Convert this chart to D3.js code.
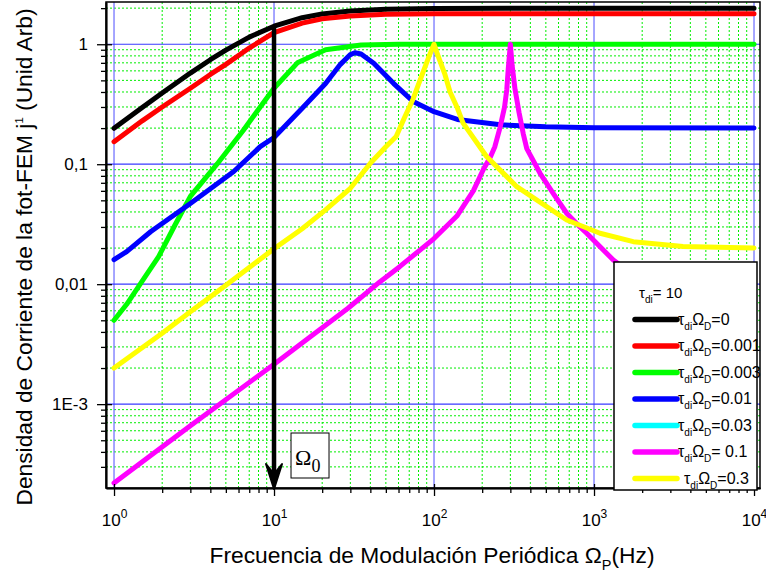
<!DOCTYPE html>
<html>
<head>
<meta charset="utf-8">
<script src="https://cdn.jsdelivr.net/npm/d3@7"></script>
<style>
  body { margin: 0; background: #fff; }
  svg { font-family: "Liberation Sans", Arial, sans-serif; }
</style>
</head>
<body>
<div class="chart"></div>
<script>
// curves: [frequency (Hz), current density]
const black = [[1, 0.199], [1.5, 0.297], [2, 0.392], [3, 0.575], [4, 0.743], [5, 0.894], [7, 1.147],
    [10, 1.414], [15, 1.664], [20, 1.789], [30, 1.897], [50, 1.961], [100, 1.99], [300, 1.999], [1000, 2.0], [10000, 2.0]];
const red = [[1, 0.154], [1.5, 0.23], [2, 0.30], [3, 0.43], [4, 0.56], [5, 0.68], [7, 0.93],
    [10, 1.25], [15, 1.5], [20, 1.63], [30, 1.72], [50, 1.78], [100, 1.8], [1000, 1.8], [10000, 1.8]];
const green = [[1, 0.005], [1.2, 0.0068], [1.45, 0.0099], [1.9, 0.017], [2.4, 0.031], [3, 0.054], [4.4, 0.10],
    [6.4, 0.19], [8.2, 0.30], [10, 0.43], [14, 0.70], [21, 0.90], [35, 0.985], [60, 1.0], [100, 1.0], [1000, 1.0], [10000, 1.0]];
const blue = [[1, 0.016], [1.2, 0.0187], [1.7, 0.0275], [3, 0.047], [5.6, 0.087], [8.2, 0.14], [10, 0.167],
    [15, 0.293], [21, 0.47], [26, 0.68], [30, 0.82], [32, 0.85], [35, 0.83], [42, 0.695], [56, 0.47], [74, 0.333],
    [100, 0.274], [140, 0.236], [260, 0.213], [500, 0.205], [1000, 0.201], [10000, 0.2]];
const cyan = [];
const magenta = [[1, 2.2e-4], [3, 6.6e-4], [10, 0.00215], [29, 0.0063], [46, 0.0105], [61, 0.014], [100, 0.024],
    [139, 0.037], [176, 0.06], [203, 0.09], [225, 0.115], [240, 0.14], [258, 0.2], [276, 0.3], [285, 0.42],
    [291, 0.62], [300, 1.0], [308, 0.66], [321, 0.42], [340, 0.27], [361, 0.18], [380, 0.135], [460, 0.084],
    [557, 0.057], [675, 0.039], [817, 0.030], [900, 0.0266], [1320, 0.0159], [10000, 0.0021]];
const yellow = [[1, 0.002], [2, 0.0039], [3, 0.0059], [5, 0.0098], [7, 0.0138], [10, 0.0197], [15, 0.029],
    [21, 0.0416], [30, 0.063], [40, 0.102], [50, 0.14], [58, 0.17], [65, 0.24], [74, 0.35], [86, 0.6], [94, 0.82],
    [100, 1.0], [106, 0.8], [117, 0.56], [126, 0.40], [139, 0.30], [152, 0.22], [213, 0.116], [329, 0.065],
    [675, 0.0343], [1090, 0.0266], [1760, 0.0226], [3600, 0.0206], [10000, 0.02]];

const seriesData = [black, red, green, blue, cyan, magenta, yellow];
const seriesColors = ["#000000", "#ff0000", "#00ff00", "#0000ff", "#00ffff", "#ff00ff", "#ffff00"];
const legendValues = ["=0", "=0.001", "=0.003", "=0.01", "=0.03", "= 0.1", "=0.3"];

const xTicks = [1, 10, 100, 1000, 10000];
const xExponents = ["0", "1", "2", "3", "4"];
const yTicks = [0.001, 0.01, 0.1, 1];
const yTickLabels = ["1E-3", "0,01", "0,1", "1"];
const omega0 = 10;
const arrowTopValue = 1.41;

const w = 766, h = 573;
const plot = { left: 106, right: 760, top: 2, bottom: 488 };

const x = d3.scaleLog().domain([0.891, 10900]).range([plot.left, plot.right]);
const y = d3.scaleLog().domain([2.0e-4, 2.25]).range([plot.bottom, plot.top]);

const svg = d3.select(".chart").append("svg").attr("width", w).attr("height", h);

// minor values
let xMinor = [], yMinor = [];
for (let e = 0; e < 4; e++) for (let k = 2; k <= 9; k++) xMinor.push(k * Math.pow(10, e));
for (let e = -4; e <= 0; e++) for (let k = 2; k <= 9; k++) {
    const v = k * Math.pow(10, e);
    if (v > 2.0e-4 && v < 2.25) yMinor.push(v);
}

// grid
const grid = svg.append("g");
grid.selectAll(".vmin").data(xMinor).enter().append("line")
    .attr("x1", d => x(d)).attr("x2", d => x(d)).attr("y1", plot.top).attr("y2", plot.bottom)
    .attr("stroke", "#00ee00").attr("stroke-width", 1).attr("stroke-dasharray", "2,2");
grid.selectAll(".hmin").data(yMinor).enter().append("line")
    .attr("x1", plot.left).attr("x2", plot.right).attr("y1", d => y(d)).attr("y2", d => y(d))
    .attr("stroke", "#00ee00").attr("stroke-width", 1).attr("stroke-dasharray", "2,2");
grid.selectAll(".vmaj").data(xTicks).enter().append("line")
    .attr("x1", d => x(d)).attr("x2", d => x(d)).attr("y1", plot.top).attr("y2", plot.bottom)
    .attr("stroke", "#6a6aff").attr("stroke-width", 1.2);
grid.selectAll(".hmaj").data(yTicks).enter().append("line")
    .attr("x1", plot.left).attr("x2", plot.right).attr("y1", d => y(d)).attr("y2", d => y(d))
    .attr("stroke", "#3a3aff").attr("stroke-width", 1.2);

// curves
const line = d3.line().x(d => x(d[0])).y(d => y(d[1]));
svg.append("g").selectAll("path").data(seriesData).enter().append("path")
    .attr("d", d => d.length ? line(d) : null)
    .attr("fill", "none")
    .attr("stroke", (d, i) => seriesColors[i])
    .attr("stroke-width", 5)
    .attr("stroke-linejoin", "round")
    .attr("stroke-linecap", "round");

// frame
svg.append("rect").attr("x", plot.left).attr("y", plot.top)
    .attr("width", plot.right - plot.left).attr("height", plot.bottom - plot.top)
    .attr("fill", "none").attr("stroke", "#000").attr("stroke-width", 1.5);

// axes
const xAxisG = svg.append("g").attr("transform", "translate(0," + plot.bottom + ")");
xAxisG.append("g").call(d3.axisBottom(x).tickValues(xMinor).tickSize(5).tickFormat("").tickSizeOuter(0));
xAxisG.append("g").call(d3.axisTop(x).tickValues(xTicks).tickSize(4).tickFormat("").tickSizeOuter(0));
xAxisG.append("g").attr("class", "xmaj")
    .call(d3.axisBottom(x).tickValues(xTicks).tickSize(8).tickPadding(18).tickSizeOuter(0));
xAxisG.selectAll("path.domain").attr("stroke-width", 1.5);
xAxisG.selectAll(".tick line").attr("stroke-width", 1.3);
xAxisG.selectAll(".xmaj .tick text").each(function (d, i) {
    const t = d3.select(this);
    t.text("10").attr("font-size", 17).attr("fill", "#000").attr("text-anchor", "middle");
    t.append("tspan").attr("dy", -8).attr("font-size", 12).text(xExponents[i]);
});

const yAxisG = svg.append("g").attr("transform", "translate(" + plot.left + ",0)");
yAxisG.append("g").call(d3.axisLeft(y).tickValues(yMinor).tickSize(5).tickFormat("").tickSizeOuter(0));
yAxisG.append("g").call(d3.axisRight(y).tickValues(yTicks).tickSize(6).tickFormat("").tickSizeOuter(0));
yAxisG.append("g")
    .call(d3.axisLeft(y).tickValues(yTicks).tickSize(9).tickPadding(9).tickSizeOuter(0)
        .tickFormat((d, i) => yTickLabels[i]))
    .selectAll("text").attr("font-size", 17).attr("fill", "#000");
yAxisG.selectAll("path.domain").attr("stroke-width", 1.5);
yAxisG.selectAll(".tick line").attr("stroke-width", 1.3);

// arrow at omega_0
const ax = x(omega0);
svg.append("line").attr("x1", ax).attr("x2", ax)
    .attr("y1", y(arrowTopValue)).attr("y2", plot.bottom - 12)
    .attr("stroke", "#000").attr("stroke-width", 4.5);
svg.append("path")
    .attr("d", "M" + ax + "," + (plot.bottom + 1) + " L" + (ax - 8) + "," + (plot.bottom - 24) +
        " L" + ax + "," + (plot.bottom - 14) + " L" + (ax + 8) + "," + (plot.bottom - 24) + " Z")
    .attr("fill", "#000").attr("stroke", "#000").attr("stroke-width", 2).attr("stroke-linejoin", "round");

const ob = svg.append("g").attr("transform", "translate(" + (ax + 17) + "," + (plot.bottom - 55) + ")");
ob.append("rect").attr("width", 38).attr("height", 45).attr("fill", "#fff").attr("stroke", "#000").attr("stroke-width", 1);
const ot = ob.append("text").attr("x", 4).attr("y", 32)
    .attr("font-family", "'Liberation Serif', 'Times New Roman', serif").attr("font-size", 22);
ot.append("tspan").text("Ω");
ot.append("tspan").attr("dy", 7).attr("font-size", 18).text("0");

// legend
const lg = svg.append("g").attr("transform", "translate(614,262)");
lg.append("rect").attr("width", 143).attr("height", 228)
    .attr("fill", "#fff").attr("stroke", "#000").attr("stroke-width", 1.5);
const title = lg.append("text").attr("x", 25).attr("y", 36).attr("font-size", 15);
title.append("tspan").text("τ");
title.append("tspan").attr("dy", 5).attr("font-size", 10).text("di");
title.append("tspan").attr("dy", -5).text("= 10");

const items = lg.selectAll(".item").data(seriesColors).enter().append("g")
    .attr("transform", (d, i) => "translate(0," + (57.5 + i * 26.5) + ")");
items.append("line").attr("x1", 21).attr("x2", 63).attr("y1", 0).attr("y2", 0)
    .attr("stroke", d => d).attr("stroke-width", 5.5).attr("stroke-linecap", "round");
const itext = items.append("text").attr("x", (d, i) => i === 6 ? 70 : 64).attr("y", 5).attr("font-size", 16);
itext.append("tspan").text("τ");
itext.append("tspan").attr("dy", 5).attr("font-size", 10).text("di");
itext.append("tspan").attr("dy", -5).text("Ω");
itext.append("tspan").attr("dy", 5).attr("font-size", 10).text("D");
itext.append("tspan").attr("dy", -5).text((d, i) => legendValues[i]);

// axis titles
const xt = svg.append("text").attr("x", 432).attr("y", 563)
    .attr("text-anchor", "middle").attr("font-size", 22)
    .attr("textLength", 445).attr("lengthAdjust", "spacingAndGlyphs");
xt.append("tspan").text("Frecuencia de Modulación Periódica Ω");
xt.append("tspan").attr("dy", 7).attr("font-size", 14).text("P");
xt.append("tspan").attr("dy", -7).text("(Hz)");

const yt = svg.append("text").attr("transform", "translate(32,257) rotate(-90)")
    .attr("text-anchor", "middle").attr("font-size", 22)
    .attr("textLength", 497).attr("lengthAdjust", "spacingAndGlyphs");
yt.append("tspan").text("Densidad de Corriente de la fot-FEM j");
yt.append("tspan").attr("dy", -9).attr("font-size", 11).text("1");
yt.append("tspan").attr("dy", 9).text(" (Unid Arb)");
</script>
</body>
</html>
